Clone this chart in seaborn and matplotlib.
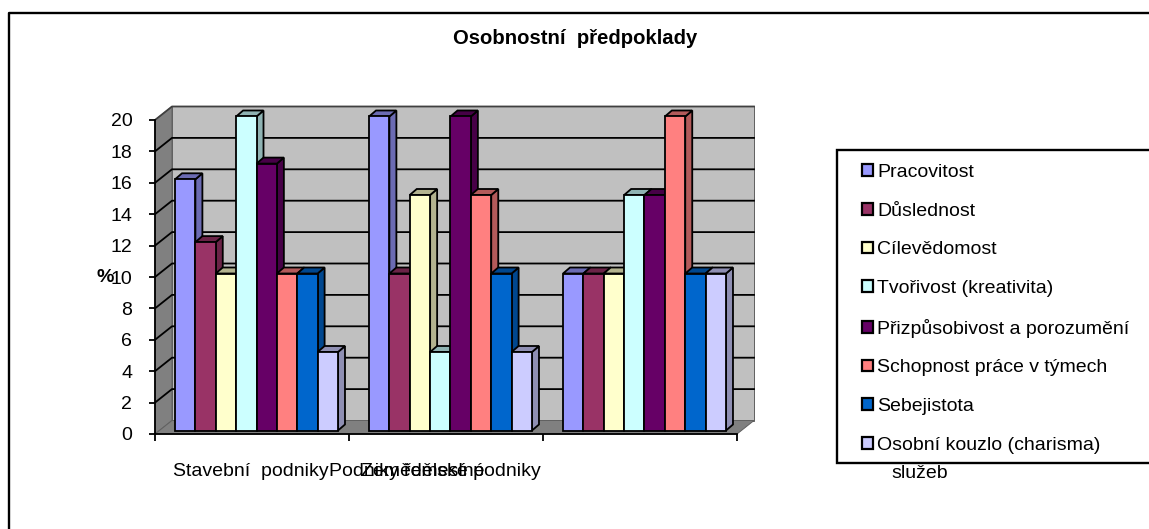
import matplotlib
matplotlib.use("Agg")
import matplotlib.pyplot as plt
import pandas as pd
import seaborn as sns
from matplotlib.lines import Line2D
from matplotlib.patches import Polygon, Rectangle
from matplotlib.transforms import Affine2D, IdentityTransform

categories = ["Stavební  podniky", "Zemědělské podniky", "Podniky služeb"]
series = ["Pracovitost", "Důslednost", "Cílevědomost", "Tvořivost (kreativita)",
          "Přizpůsobivost a porozumění", "Schopnost práce v týmech", "Sebejistota",
          "Osobní kouzlo (charisma)"]
colors = ["#9999FF", "#993366", "#FFFFCC", "#CCFFFF", "#660066", "#FF8080", "#0066CC", "#CCCCFF"]
values_stavebni = [16, 12, 10, 20, 17, 10, 10, 5]
values_zemedelske = [20, 10, 15, 5, 20, 15, 10, 5]
values_sluzeb = [10, 10, 10, 15, 15, 20, 10, 10]
extra_label = "Podniky řemeslné"
title = "Osobnostní  předpoklady"
y_ticks = list(range(0, 21, 2))

plt.rcParams["font.family"] = ["Liberation Sans", "DejaVu Sans"]
W, H = 1149, 529
FS = 14
LW = 1.3
fig = plt.figure(figsize=(W / 100, H / 100), dpi=100, facecolor="white")
ident = IdentityTransform()


def py(y):
    return H - y


ax = fig.add_axes([155 / W, (H - 434) / H, (737 - 155) / W, (434 - 120) / H])
ax.patch.set_visible(False)

rows = []
for cat, vals in zip(categories, [values_stavebni, values_zemedelske, values_sluzeb]):
    for s, v in zip(series, vals):
        rows.append({"podnik": cat, "vlastnost": s, "pct": v})
df = pd.DataFrame(rows)

sns.barplot(data=df, x="podnik", y="pct", hue="vlastnost", order=categories, hue_order=series,
            palette=colors, saturation=1, width=0.84, gap=0, edgecolor="black", linewidth=LW,
            ax=ax, legend=True)
handles, labels = ax.get_legend_handles_labels()
ax.get_legend().remove()

ax.set_xlim(-0.5, 2.5)
ax.set_ylim(0, 20)
ax.set_xlabel("")
ax.set_ylabel("")
ax.set_xticks([-0.5, 0.5, 1.5, 2.5])
ax.set_xticklabels([])
ax.set_yticks(y_ticks)
ax.tick_params(axis="y", length=4.3, width=LW, pad=12, labelsize=FS, colors="black")
ax.tick_params(axis="x", length=5, width=LW)
for s in ["top", "right"]:
    ax.spines[s].set_visible(False)
for s in ["left", "bottom"]:
    ax.spines[s].set_linewidth(LW)
    ax.spines[s].set_zorder(2.5)

# 3-D walls, floor and gridlines
WALL_DX, WALL_DY = 17, 13.5


def front(x, y):
    return ax.transData.transform((x, y))


def back(x, y):
    p = front(x, y)
    return (p[0] + WALL_DX, p[1] + WALL_DY)


def poly(pts, fc, z, ec="#606060", lw=0.7):
    ax.add_patch(Polygon(pts, closed=True, facecolor=fc, edgecolor=ec, linewidth=lw,
                         transform=ident, clip_on=False, zorder=z))


poly([back(-0.5, 0), back(2.5, 0), back(2.5, 20), back(-0.5, 20)], "#C0C0C0", 1)
poly([front(-0.5, 0), back(-0.5, 0), back(-0.5, 20), front(-0.5, 20)], "#808080", 1)
poly([front(-0.5, 0), front(2.5, 0), back(2.5, 0), back(-0.5, 0)], "#808080", 1)
for v in y_ticks[1:-1]:
    ax.add_line(Line2D(*zip(front(-0.5, v), back(-0.5, v), back(2.5, v)), color="black", lw=LW,
                       transform=ident, clip_on=False, zorder=1.5))
ax.add_line(Line2D(*zip(front(-0.5, 20), back(-0.5, 20), back(2.5, 20)), color="#404040", lw=LW,
                   transform=ident, clip_on=False, zorder=1.5))

# 3-D bars: every side face derives from the bar seaborn drew
BAR_SHIFT = Affine2D().translate(4.5, 3.5)
BAR_DX, BAR_DY = 7, 6
bars = sorted([b for c in ax.containers for b in c], key=lambda b: b.get_x())
for i, b in enumerate(bars):
    b.set_transform(ax.transData + BAR_SHIFT)
    b.set_clip_on(False)
    z = 3 + 2 * i * 0.01
    b.set_zorder(z + 0.01)
    x0, y0 = BAR_SHIFT.transform(front(b.get_x(), 0))
    x1, y1 = BAR_SHIFT.transform(front(b.get_x() + b.get_width(), b.get_height()))
    r, g, bl, _ = b.get_facecolor()
    dark = (r * 0.7, g * 0.7, bl * 0.7)
    poly([(x1, y0), (x1 + BAR_DX, y0 + BAR_DY), (x1 + BAR_DX, y1 + BAR_DY), (x1, y1)],
         dark, z, ec="black", lw=LW)
    poly([(x0, y1), (x1, y1), (x1 + BAR_DX, y1 + BAR_DY), (x0 + BAR_DX, y1 + BAR_DY)],
         dark, z, ec="black", lw=LW)

# outer frame, cut by the picture edge
fig.add_artist(Line2D([9, 9, W], [0, py(13), py(13)], color="black", lw=1.7, transform=ident))

# texts
fig.text(575, py(39), title, transform=ident, ha="center", va="center",
         fontsize=14.6, fontweight="bold")
fig.text(105, py(277), "%", transform=ident, ha="center", va="center",
         fontsize=FS, fontweight="bold", zorder=5)
fig.text(173, py(472), categories[0], transform=ident, ha="left", va="center", fontsize=FS)
fig.text(329, py(472), extra_label, transform=ident, ha="left", va="center", fontsize=FS)
fig.text(541, py(472), categories[1], transform=ident, ha="right", va="center", fontsize=FS)
fig.text(891, py(473), categories[2].split()[-1], transform=ident, ha="left", va="center",
         fontsize=FS, zorder=2)

# legend box, running past the right edge
fig.add_artist(Rectangle((837, py(463)), 400, 313, facecolor="white", edgecolor="black",
                         linewidth=1.7, transform=ident, zorder=3))
leg = ax.legend(handles, labels, loc="upper left", bbox_to_anchor=(862, py(164)),
                bbox_transform=ident, frameon=False, fontsize=FS, borderpad=0, borderaxespad=0,
                handlelength=0.56, handleheight=0.56, handletextpad=0.22, labelspacing=1.115)
for h in leg.get_patches():
    h.set_linewidth(1.6)
leg.set_zorder(10)
leg.remove()
fig.add_artist(leg)

fig.savefig("out.png", dpi=100)
